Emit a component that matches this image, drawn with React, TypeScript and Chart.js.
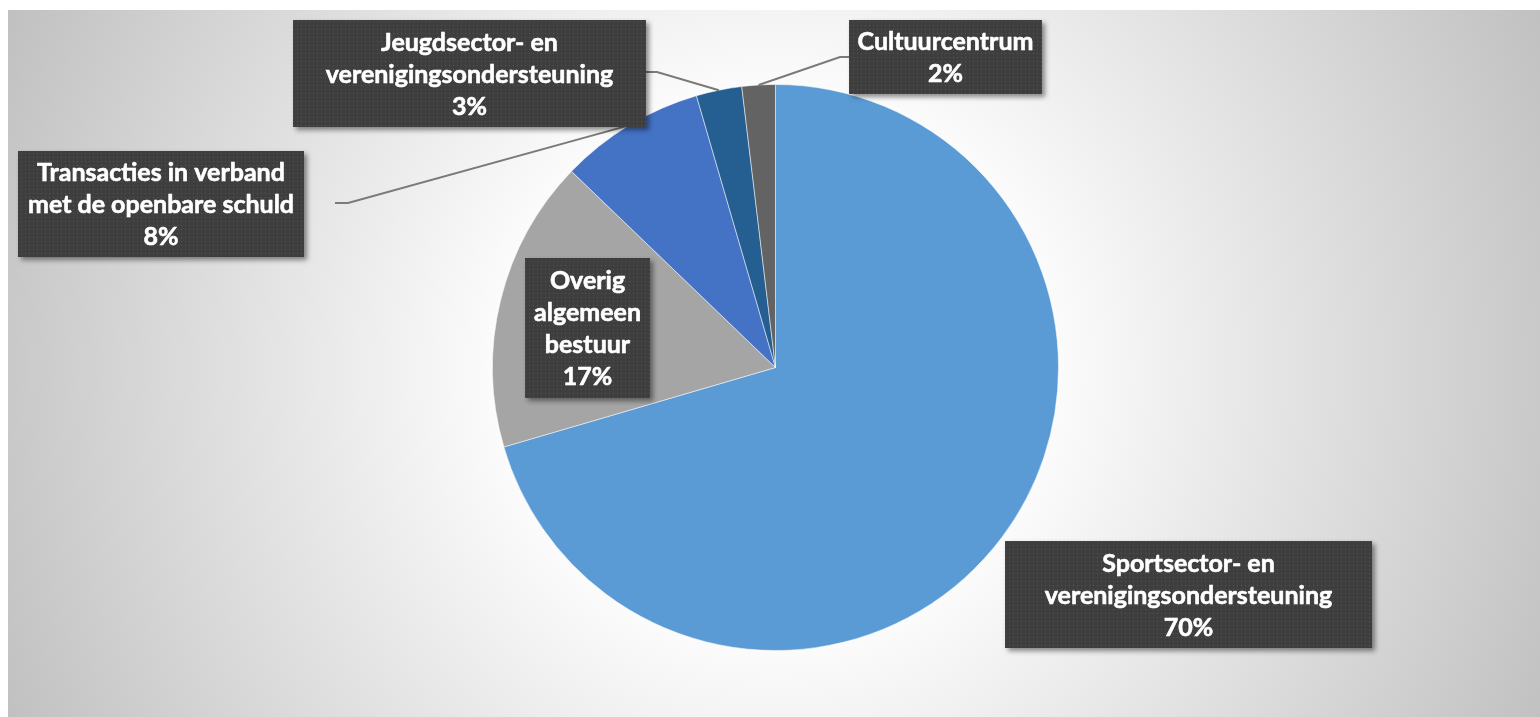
import React, { useEffect, useRef } from "react";
import { Chart, registerables } from "chart.js";

Chart.register(...registerables);

// ---- data ----
const categories = [
  "Sportsector- en verenigingsondersteuning",
  "Overig algemeen bestuur",
  "Transacties in verband met de openbare schuld",
  "Jeugdsector- en verenigingsondersteuning",
  "Cultuurcentrum",
];
const shares = [70.4, 16.7, 8.3, 2.6, 1.9];
const labelLines = [
  ["Sportsector- en", "verenigingsondersteuning"],
  ["Overig", "algemeen", "bestuur"],
  ["Transacties in verband", "met de openbare schuld"],
  ["Jeugdsector- en", "verenigingsondersteuning"],
  ["Cultuurcentrum"],
];
const sliceColors = ["#5B9BD5", "#A5A5A5", "#4472C4", "#255E91", "#636363"];

// ---- label box layout (offsets from pie centre, px) ----
type Side = "left" | "right" | null;
const boxLayout: { dx: number; dy: number; w: number; h: number; side: Side; gap: number; elbow: number; ly: number }[] = [
  { dx: 229.5, dy: 173.5, w: 367, h: 107, side: null, gap: 0, elbow: 0, ly: 0 },
  { dx: -250.5, dy: -109.5, w: 125, h: 140, side: null, gap: 0, elbow: 0, ly: 0 },
  { dx: -757.5, dy: -216.5, w: 286, h: 106, side: "right", gap: 31, elbow: 13, ly: 52 },
  { dx: -482.5, dy: -347.5, w: 353, h: 107, side: "right", gap: 0, elbow: 11, ly: 52 },
  { dx: 73.5, dy: -347.5, w: 193, h: 74, side: "left", gap: 0, elbow: 9, ly: 37 },
];

const FONT = "bold 25px Lato, 'Open Sans', sans-serif";
const LINE_H = 32;

function makePattern(ctx: CanvasRenderingContext2D) {
  const c = document.createElement("canvas");
  c.width = 4;
  c.height = 4;
  const p = c.getContext("2d")!;
  p.fillStyle = "#3e3e3e";
  p.fillRect(0, 0, 4, 4);
  p.fillStyle = "#565656";
  p.fillRect(1, 1, 1, 1);
  return ctx.createPattern(c, "repeat")!;
}

const bgPlugin = {
  id: "bgGradient",
  beforeDraw(chart: any) {
    const ctx: CanvasRenderingContext2D = chart.ctx;
    const meta = chart.getDatasetMeta(0);
    const a = meta.data[0];
    const cx = a ? a.x : chart.width / 2;
    const cy = a ? a.y : chart.height / 2;
    ctx.save();
    const g = ctx.createRadialGradient(cx, cy, 0, cx, cy, 850);
    g.addColorStop(0, "#ffffff");
    g.addColorStop(0.29, "#ffffff");
    g.addColorStop(1, "#c0c0c0");
    ctx.fillStyle = g;
    ctx.fillRect(8, 10, chart.width - 8, chart.height - 10);
    ctx.restore();
  },
};

const labelPlugin = {
  id: "boxLabels",
  afterDatasetsDraw(chart: any) {
    const ctx: CanvasRenderingContext2D = chart.ctx;
    const meta = chart.getDatasetMeta(0);
    const arcs = meta.data as any[];
    if (!arcs.length) return;
    const cx = arcs[0].x;
    const cy = arcs[0].y;
    const total = shares.reduce((s, v) => s + v, 0);
    const pattern = makePattern(ctx);

    // leader lines
    ctx.save();
    ctx.strokeStyle = "#7a7a7a";
    ctx.lineWidth = 2;
    arcs.forEach((arc, i) => {
      const L = boxLayout[i];
      if (!L.side) return;
      const mid = (arc.startAngle + arc.endAngle) / 2;
      const ax = arc.x + Math.cos(mid) * arc.outerRadius;
      const ay = arc.y + Math.sin(mid) * arc.outerRadius;
      const bx = cx + L.dx;
      const by = cy + L.dy;
      const yy = by + L.ly;
      let sx: number, ex: number;
      if (L.side === "right") {
        sx = bx + L.w + L.gap;
        ex = sx + L.elbow;
      } else {
        sx = bx - L.gap;
        ex = sx - L.elbow;
      }
      ctx.beginPath();
      ctx.moveTo(sx, yy);
      ctx.lineTo(ex, yy);
      ctx.lineTo(ax, ay);
      ctx.stroke();
    });
    ctx.restore();

    // boxes
    arcs.forEach((arc, i) => {
      const L = boxLayout[i];
      const bx = cx + L.dx;
      const by = cy + L.dy;
      ctx.save();
      ctx.shadowColor = "rgba(0,0,0,0.45)";
      ctx.shadowBlur = 5;
      ctx.shadowOffsetX = 3;
      ctx.shadowOffsetY = 3;
      ctx.fillStyle = "#3e3e3e";
      ctx.fillRect(bx, by, L.w, L.h);
      ctx.restore();
      ctx.save();
      ctx.fillStyle = pattern;
      ctx.fillRect(bx, by, L.w, L.h);
      const pct = Math.round((shares[i] / total) * 100) + "%";
      const lines = [...labelLines[i], pct];
      ctx.fillStyle = "#ffffff";
      ctx.strokeStyle = "#ffffff";
      ctx.lineWidth = 0.6;
      ctx.lineJoin = "round";
      ctx.font = FONT;
      ctx.textAlign = "center";
      ctx.textBaseline = "middle";
      const mx = bx + L.w / 2;
      const my = by + L.h / 2 + 1;
      lines.forEach((t, k) => {
        const ty = my + (k - (lines.length - 1) / 2) * LINE_H;
        ctx.fillText(t, mx, ty);
        ctx.strokeText(t, mx, ty);
      });
      ctx.restore();
    });
  },
};

export default function App() {
  const ref = useRef<HTMLCanvasElement | null>(null);
  useEffect(() => {
    if (!ref.current) return;
    const chart = new Chart(ref.current, {
      type: "pie",
      data: {
        labels: categories,
        datasets: [
          {
            data: shares,
            backgroundColor: sliceColors,
            borderColor: "rgba(255,255,255,0.5)",
            borderWidth: 1,
            hoverOffset: 0,
            offset: 0,
          },
        ],
      },
      options: {
        responsive: false,
        devicePixelRatio: 1,
        animation: false,
        layout: { padding: { left: 11, right: 0, top: 84, bottom: 66 } },
        plugins: {
          legend: { display: false },
          tooltip: { enabled: false },
        },
      },
      plugins: [bgPlugin, labelPlugin],
    } as any);
    return () => chart.destroy();
  }, []);
  return (
    <div style={{ position: "fixed", left: 0, top: 0, width: 1540, height: 717 }}>
      <canvas ref={ref} width={1540} height={717} style={{ display: "block", width: 1540, height: 717 }} />
    </div>
  );
}
